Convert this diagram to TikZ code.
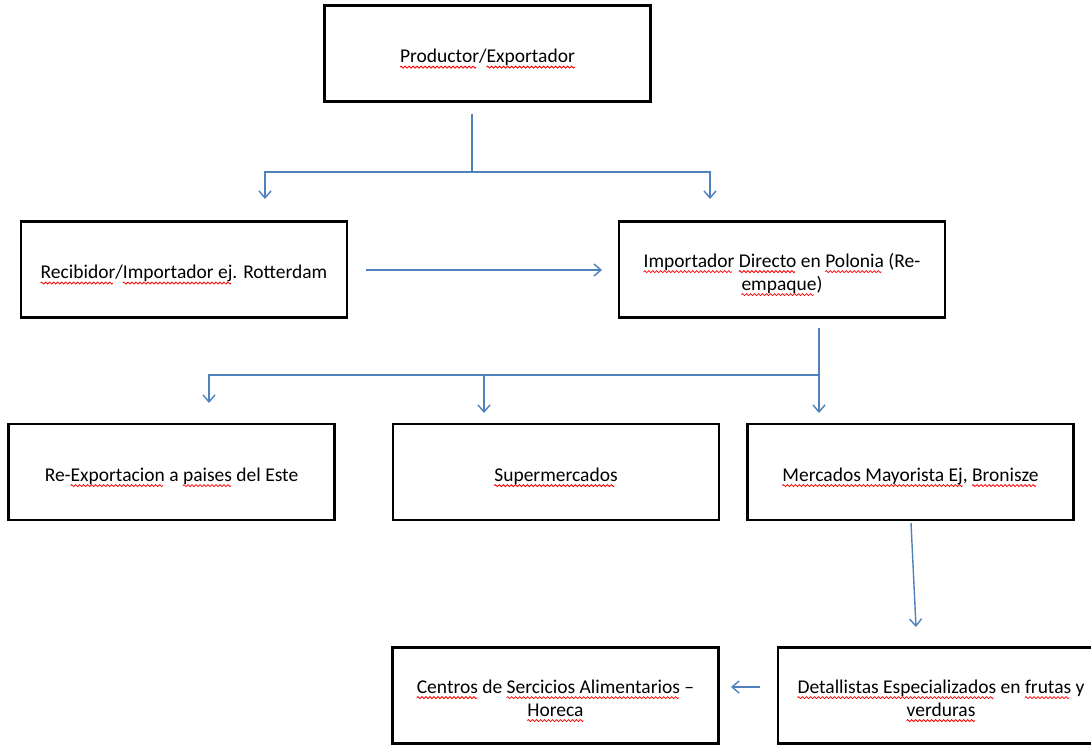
\documentclass[tikz,border=0pt]{standalone}
\usepackage{fontspec}
\setmainfont{Carlito}
\usetikzlibrary{arrows.meta}
\newsavebox\wavebox
\newsavebox\rwbox
\newcommand\rw[1]{\sbox\rwbox{#1}\rlap{\raisebox{-5.5pt}{\hbox to\wd\rwbox{\leaders\copy\wavebox\hfill}}}\usebox\rwbox}
\newcommand\tx[1]{\raisebox{0pt}[\dimexpr\height+9pt\relax][\depth]{\begin{tabular}{@{}c@{}}#1\end{tabular}}}
\definecolor{conblue}{HTML}{4F81BD}
\tikzset{
  box/.style={draw=black,line width=2.6pt,minimum width=326pt,minimum height=96pt,
    inner sep=0pt,font=\fontsize{19.5}{23}\selectfont},
  conn/.style={draw=conblue,line width=1.4pt},
  arr/.style={conn,-{Straight Barb[length=7pt,width=12pt,line width=1.4pt]}}
}
\begin{document}
\sbox\wavebox{\begin{pgfpicture}\pgfpathrectangle{\pgfpointorigin}{\pgfpoint{4pt}{2pt}}\pgfusepath{use as bounding box}\pgfsetlinewidth{0.8pt}\pgfsetstrokecolor{red}\pgfpathmoveto{\pgfpoint{0pt}{1pt}}\pgfpathlineto{\pgfpoint{1pt}{2pt}}\pgfpathlineto{\pgfpoint{3pt}{0pt}}\pgfpathlineto{\pgfpoint{4pt}{1pt}}\pgfusepath{stroke}\end{pgfpicture}}%
\begin{tikzpicture}[x=1pt,y=-1pt]
\useasboundingbox[fill=white] (0,0) rectangle (1091,746);
\node[box] (prod) at (487.5,53.5) {\tx{\rw{Productor}/\rw{Exportador}}};
\node[box] (reci) at (184,269.5) {\tx{\rw{Recibidor}/\rw{Importador ej}. Rotterdam}};
\node[box] (impo) at (782,269.5) {\tx{\rw{Importador} \rw{Directo} en \rw{Polonia} (Re-\\\rw{empaque})}};
\node[box] (reex) at (171.5,472) {\tx{Re-\rw{Exportacion} a \rw{paises} del Este}};
\node[box] (supe) at (556,472) {\tx{\rw{Supermercados}}};
\node[box] (merc) at (910.5,472) {\tx{\rw{Mercados Mayorista Ej}, \rw{Bronisze}}};
\node[box] (cent) at (555.5,695.5) {\tx{\rw{Centros} de \rw{Sercicios Alimentarios} --\\\rw{Horeca}}};
\node[box] (deta) at (941,695.5) {\tx{\rw{Detallistas Especializados} en \rw{frutas} y\\\rw{verduras}}};
% connectors
\coordinate (p1) at (472,114);
\coordinate (p2) at (472,172);
\coordinate (t1) at (265,199);
\coordinate (t2) at (710,199);
\draw[conn] (p1) -- (p2);
\draw[arr] (p2) -| (t1);
\draw[arr] (p2) -| (t2);
\coordinate (r1) at (366,270);
\coordinate (r2) at (602,270);
\draw[arr] (r1) -- (r2);
\coordinate (i1) at (819,328);
\coordinate (i2) at (819,375);
\coordinate (i3) at (484,375);
\coordinate (u1) at (209,403);
\coordinate (u2) at (484,413);
\coordinate (u3) at (819,413);
\draw[arr] (i1) -- (u3);
\draw[arr] (i2) -| (u1);
\draw[arr] (i3) -- (u2);
\coordinate (m1) at (911,523);
\coordinate (m2) at (916,627);
\draw[arr] (m1) -- (m2);
\coordinate (d1) at (760,687);
\coordinate (d2) at (731,687);
\draw[arr] (d1) -- (d2);
\end{tikzpicture}
\end{document}
